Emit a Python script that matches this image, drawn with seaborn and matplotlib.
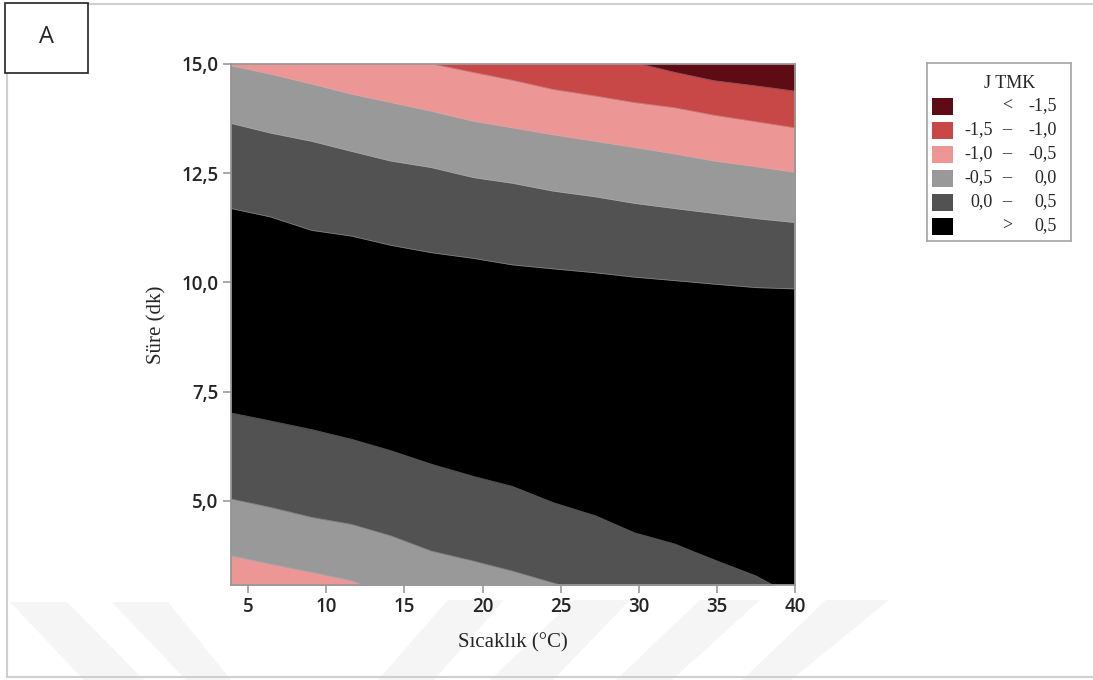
"""
Kontur grafiği: Sıcaklık ve süreye göre J TMK bölgeleri.
"""
import numpy as np
import pandas as pd
import matplotlib
matplotlib.use("Agg")
import matplotlib.pyplot as plt
from matplotlib.patches import Rectangle, Polygon
import seaborn as sns

sns.set_theme(style="white")
plt.rcParams['font.family'] = ['Open Sans', 'DejaVu Sans']

# --- Veri: bant sınırları ---
# üst sınırlar (yukarıdan aşağıya)
b1_x = [30.1, 32.3, 34.8, 37.5, 40.0]
b1_y = [15.0, 14.81, 14.62, 14.50, 14.38]

b2_x = [16.8, 19.4, 21.9, 24.5, 27.2, 29.7, 32.3, 34.8, 37.5, 40.0]
b2_y = [15.0, 14.81, 14.63, 14.42, 14.27, 14.12, 14.00, 13.83, 13.68, 13.54]

grid_x = [3.9, 6.4, 9.06, 11.6, 14.1, 16.7, 19.4, 21.9, 24.5, 27.2, 29.7, 32.3, 34.8, 37.5, 40.0]
b3_y = [14.96, 14.77, 14.54, 14.31, 14.12, 13.92, 13.69, 13.54, 13.38, 13.23, 13.09, 12.94, 12.78, 12.65, 12.52]
b4_y = [13.64, 13.42, 13.23, 13.00, 12.78, 12.63, 12.40, 12.27, 12.09, 11.96, 11.81, 11.69, 11.58, 11.46, 11.37]
b5_y = [11.69, 11.50, 11.19, 11.06, 10.85, 10.68, 10.55, 10.40, 10.31, 10.22, 10.12, 10.04, 9.96, 9.88, 9.85]

# alt sınırlar
b6_x = [3.9, 6.4, 9.06, 11.6, 14.1, 16.7, 19.4, 21.9, 24.5, 27.2, 29.7, 32.3, 34.8, 37.5, 38.95]
b6_y = [7.01, 6.83, 6.63, 6.41, 6.15, 5.84, 5.56, 5.33, 4.96, 4.66, 4.27, 4.01, 3.65, 3.28, 3.00]

b7_x = [3.9, 6.4, 9.06, 11.6, 14.1, 16.7, 19.4, 21.9, 24.5, 25.9]
b7_y = [5.04, 4.85, 4.62, 4.46, 4.20, 3.85, 3.62, 3.39, 3.12, 2.98]

b8_x = [3.9, 6.4, 9.06, 11.6, 12.9]
b8_y = [3.74, 3.55, 3.36, 3.17, 3.00]

# renkler ve lejant
band_colors = ['#5e0b13', '#c84848', '#ec9696', '#999999', '#525252', '#000000']
leg_left = ['', '-1,5', '-1,0', '-0,5', '0,0', '']
leg_mid = ['<', '–', '–', '–', '–', '>']
leg_right = ['-1,5', '-1,0', '-0,5', '0,0', '0,5', '0,5']

x_ticks = [5, 10, 15, 20, 25, 30, 35, 40]
y_ticks = [5.0, 7.5, 10.0, 12.5, 15.0]
y_tick_labels = ['5,0', '7,5', '10,0', '12,5', '15,0']

W, H = 1093, 680
fig = plt.figure(figsize=(W / 100, H / 100), dpi=100)

# ==========================================
# arka plan: çerçeve, filigran, "A" kutusu
# ==========================================
bg = fig.add_axes([0, 0, 1, 1], zorder=0)
bg.set_xlim(0, W)
bg.set_ylim(H, 0)
bg.axis('off')

stripes = [
    [(10, 602), (67, 602), (144, 680), (84, 680)],
    [(112, 602), (168, 602), (231, 680), (186, 680)],
    [(448, 600), (504, 600), (434, 680), (378, 680)],
    [(574, 600), (630, 600), (553, 680), (490, 680)],
    [(700, 600), (760, 600), (672, 680), (616, 680)],
    [(826, 600), (889, 600), (791, 680), (742, 680)],
]
for s in stripes:
    bg.add_patch(Polygon(s, closed=True, facecolor='#f5f5f5', edgecolor='none'))

bg.add_patch(Rectangle((7, 4), W, 673, fill=False, edgecolor='#cfcfcf', linewidth=1.5))
bg.add_patch(Rectangle((5, 3), 83, 70, facecolor='white', edgecolor='#222222', linewidth=1.2))
bg.text(46.5, 37, 'A', fontsize=17, ha='center', va='center')

# ==========================================
# ana kontur grafiği
# ==========================================
ax = fig.add_axes([231 / W, 1 - 585 / H, 564 / W, 521 / H], zorder=1)
ax.set_facecolor(band_colors[5])

top, bottom = 20, -5
# üst bantlar: en alttaki sınırdan başlayarak üstünü doldur
ax.fill_between(grid_x, b5_y, top, color=band_colors[4], linewidth=0)
ax.fill_between(grid_x, b4_y, top, color=band_colors[3], linewidth=0)
ax.fill_between(grid_x, b3_y, top, color=band_colors[2], linewidth=0)
ax.fill_between(b2_x, b2_y, top, color=band_colors[1], linewidth=0)
ax.fill_between(b1_x, b1_y, top, color=band_colors[0], linewidth=0)
# alt bantlar
ax.fill_between(b6_x, b6_y, bottom, color=band_colors[4], linewidth=0)
ax.fill_between(b7_x, b7_y, bottom, color=band_colors[3], linewidth=0)
ax.fill_between(b8_x, b8_y, bottom, color=band_colors[2], linewidth=0)

# sınır çizgileri (ince)
for bx, by in [(b1_x, b1_y), (b2_x, b2_y), (grid_x, b3_y), (grid_x, b4_y),
               (grid_x, b5_y), (b6_x, b6_y), (b7_x, b7_y), (b8_x, b8_y)]:
    sns.lineplot(x=bx, y=by, ax=ax, color='#bdbdbd', linewidth=0.5, alpha=0.5,
                 sort=False, estimator=None)

ax.set_xlim(3.9, 40)
ax.set_ylim(3.07, 15)
ax.set_xticks(x_ticks)
ax.set_xticklabels([str(t) for t in x_ticks], fontweight='semibold')
ax.set_yticks(y_ticks)
ax.set_yticklabels(y_tick_labels, fontweight='semibold')
ax.tick_params(axis='both', which='major', length=6, width=1.2, color='#999999',
               direction='out', labelsize=13.5, pad=3, bottom=True, left=True)
for sp in ax.spines.values():
    sp.set_color('#999999')
    sp.set_linewidth(1.3)

ax.set_xlabel('Sıcaklık (°C)', family=['Liberation Serif'], fontsize=15, labelpad=11)
ax.set_ylabel('Süre (dk)', family=['Liberation Serif'], fontsize=15, labelpad=11)

# ==========================================
# lejant (elle çizilmiş)
# ==========================================
lg = fig.add_axes([927 / W, 1 - 241 / H, 144 / W, 178 / H], zorder=2)
lg.set_xlim(927, 1071)
lg.set_ylim(241, 63)
lg.set_xticks([])
lg.set_yticks([])
lg.set_facecolor('white')
for sp in lg.spines.values():
    sp.set_color('#aaaaaa')
    sp.set_linewidth(1.3)

fs = 13
lg.text(1010, 83, 'J TMK', family=['Liberation Serif'], fontsize=fs,
        ha='center', va='center')
for i, col in enumerate(band_colors):
    yc = 106 + 24 * i
    lg.add_patch(Rectangle((932, yc - 8.5), 21, 17, facecolor=col, edgecolor='none'))
    lg.text(993, yc, leg_left[i], family=['Liberation Serif'], fontsize=fs,
            ha='right', va='center')
    lg.text(1007, yc, leg_mid[i], family=['Liberation Serif'], fontsize=fs,
            ha='center', va='center')
    lg.text(1057, yc, leg_right[i], family=['Liberation Serif'], fontsize=fs,
            ha='right', va='center')

plt.savefig('out.png', dpi=100)
